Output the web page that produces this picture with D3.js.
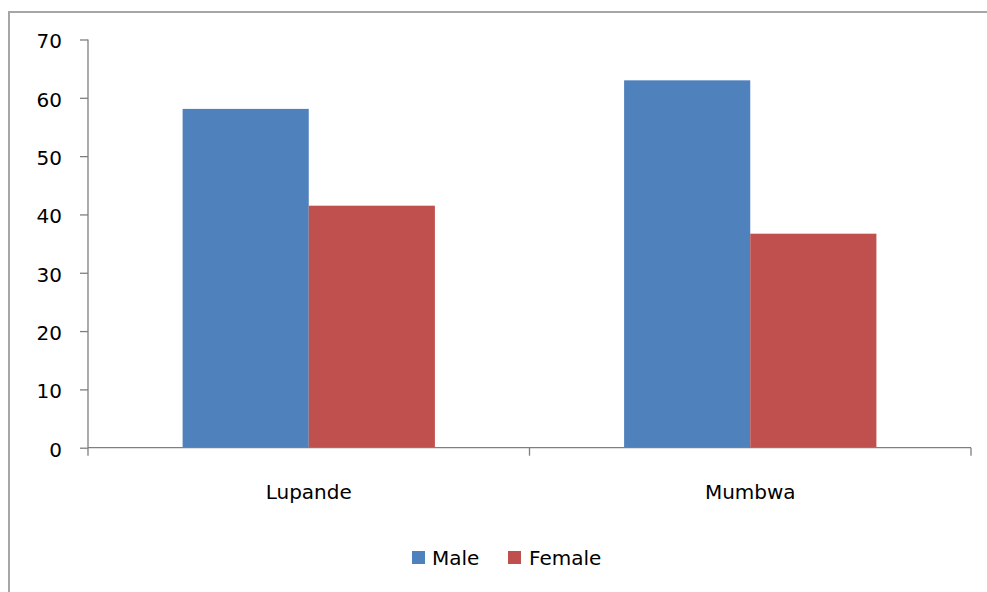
<!DOCTYPE html>
<html>
<head>
<meta charset="utf-8">
<script src="https://cdn.jsdelivr.net/npm/d3@7"></script>
<style>
  html, body { margin: 0; padding: 0; background: #fff; }
  svg { display: block; }
  text { font-family: "DejaVu Sans", Verdana, sans-serif; fill: #000; }
</style>
</head>
<body>
<svg id="chart" width="987" height="592"></svg>
<script>
// Survey share by sex for each site
const categories = ["Lupande", "Mumbwa"];
const seriesNames = ["Male", "Female"];
const maleValues = [58.1, 63.0];
const femaleValues = [41.5, 36.7];
const yTicks = [0, 10, 20, 30, 40, 50, 60, 70];
const seriesColors = ["#4F81BD", "#C0504D"];

const rows = categories.map((c, i) => ({ category: c, values: [maleValues[i], femaleValues[i]] }));

const svg = d3.select("#chart");
const W = 987, H = 592;
const plot = { left: 88, right: 971, top: 39.5, bottom: 447.7 };
const fontSize = 20;

// chart area frame
svg.append("rect")
  .attr("x", 9).attr("y", 12)
  .attr("width", W + 20).attr("height", H + 20)
  .attr("fill", "#fff")
  .attr("stroke", "#A6A6A6").attr("stroke-width", 2);

const y = d3.scaleLinear().domain([0, 70]).range([plot.bottom, plot.top]);
const x0 = d3.scaleBand().domain(categories).range([plot.left, plot.right]).padding(0);
const bw = x0.bandwidth();
const x1 = d3.scaleBand().domain(seriesNames)
  .range([bw * 0.75 / 3.5, bw * 2.75 / 3.5]).padding(0);
const color = d3.scaleOrdinal().domain(seriesNames).range(seriesColors);

// bars
const groups = svg.append("g").selectAll("g")
  .data(rows).join("g")
  .attr("transform", d => `translate(${x0(d.category)},0)`);

groups.selectAll("rect")
  .data(d => d.values.map((v, j) => ({ name: seriesNames[j], value: v })))
  .join("rect")
  .attr("x", d => x1(d.name))
  .attr("width", x1.bandwidth())
  .attr("y", d => y(d.value))
  .attr("height", d => y(0) - y(d.value))
  .attr("fill", d => color(d.name));

// y axis
const yAxis = svg.append("g")
  .attr("transform", `translate(${plot.left},0)`)
  .call(d3.axisLeft(y).tickValues(yTicks).tickSize(8).tickPadding(18).tickFormat(d3.format("d")));
yAxis.select(".domain").attr("stroke", "#7F7F7F").attr("stroke-width", 1.3).attr("d", `M0,${plot.top}V${plot.bottom}`);
yAxis.selectAll(".tick line").attr("stroke", "#7F7F7F").attr("stroke-width", 1.3);
yAxis.selectAll(".tick text")
  .attr("font-size", fontSize).attr("dy", "0.42em")
  .style("font-family", "'DejaVu Sans', Verdana, sans-serif");

// x axis with boundary ticks between categories
const xAxis = svg.append("g").attr("transform", `translate(0,${plot.bottom})`);
xAxis.append("path")
  .attr("d", `M${plot.left},0H${plot.right}`)
  .attr("stroke", "#7F7F7F").attr("stroke-width", 1.3).attr("fill", "none");
const boundaries = [plot.left].concat(categories.map(c => x0(c) + bw));
xAxis.selectAll("line.bound").data(boundaries).join("line")
  .attr("class", "bound")
  .attr("x1", d => d).attr("x2", d => d)
  .attr("y1", 0).attr("y2", 8)
  .attr("stroke", "#7F7F7F").attr("stroke-width", 1.3);
xAxis.selectAll("text.cat").data(categories).join("text")
  .attr("class", "cat")
  .attr("x", d => x0(d) + bw / 2)
  .attr("y", 51)
  .attr("text-anchor", "middle")
  .attr("font-size", fontSize)
  .text(d => d);

// legend
const legendItems = [
  { name: "Male", sx: 412, tx: 432 },
  { name: "Female", sx: 508, tx: 529 }
];
const legend = svg.append("g");
legend.selectAll("rect").data(legendItems).join("rect")
  .attr("x", d => d.sx).attr("y", 551)
  .attr("width", 13).attr("height", 13)
  .attr("fill", d => color(d.name));
legend.selectAll("text").data(legendItems).join("text")
  .attr("x", d => d.tx).attr("y", 565)
  .attr("font-size", fontSize)
  .text(d => d.name);
</script>
</body>
</html>
